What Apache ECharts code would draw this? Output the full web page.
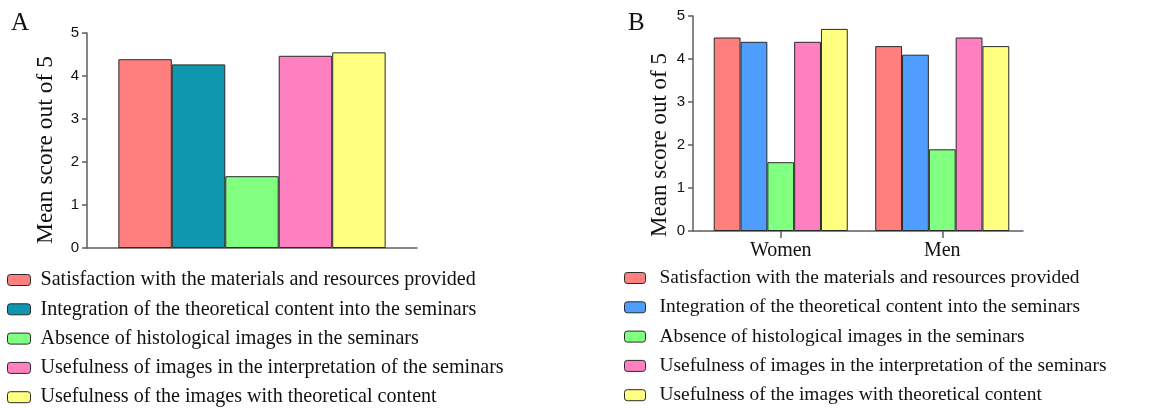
<!DOCTYPE html>
<html>
<head>
<meta charset="utf-8">
<script src="https://cdn.jsdelivr.net/npm/echarts@6/dist/echarts.min.js"></script>
<style>
  html, body { margin: 0; padding: 0; background: #fff; }
  #chart { width: 1167px; height: 408px; }
</style>
</head>
<body>
<div id="chart"></div>
<script>
// Survey items (legend entries)
const items = [
  'Satisfaction with the materials and resources provided',
  'Integration of the theoretical content into the seminars',
  'Absence of histological images in the seminars',
  'Usefulness of images in the interpretation of the seminars',
  'Usefulness of the images with theoretical content'
];

// Panel A: overall mean score per item
const overallScores = [4.39, 4.27, 1.67, 4.47, 4.55];

// Panel B: mean score per item, by gender
const genderGroups = ['Women', 'Men'];
const womenScores = [4.5, 4.4, 1.6, 4.4, 4.7];
const menScores   = [4.3, 4.1, 1.9, 4.5, 4.3];

const yTicks = [0, 1, 2, 3, 4, 5];

const coloursA = ['#FF7F7F', '#1097B0', '#80FF80', '#FF80C0', '#FFFF80'];
const coloursB = ['#FF7F7F', '#4F9DFF', '#80FF80', '#FF80C0', '#FFFF80'];

const serif = '"Liberation Serif", "Times New Roman", serif';
const sans = '"Liberation Sans", Arial, sans-serif';
const axisGrey = '#5e5e5e';
const edge = '#2a2a2a';

const gridA = { left: 87, top: 33, width: 330, height: 215 };
const gridB = { left: 700, top: 16, width: 323, height: 215 };
const bOffset = 7;

// titleShift pushes the rotated axis name down from the axis midpoint
function yAxisFor(gridIndex, gap, nameSize, titleShift, offset) {
  return {
    type: 'value', gridIndex, min: yTicks[0], max: yTicks[yTicks.length - 1], interval: 1,
    offset: offset || 0,
    name: 'Mean score out of 5', nameLocation: 'middle', nameGap: gap,
    nameTextStyle: { fontFamily: serif, fontSize: nameSize, color: '#111', padding: [0, titleShift * 2, 0, 0] },
    axisLine: { show: true, lineStyle: { color: axisGrey, width: 1.5 } },
    axisTick: { show: true, length: 5, lineStyle: { color: axisGrey, width: 1.5 } },
    axisLabel: { fontFamily: sans, fontSize: 15, color: '#111', margin: 8 },
    splitLine: { show: false }
  };
}

const series = [];
items.forEach((name, i) => {
  series.push({
    name, type: 'bar', xAxisIndex: 0, yAxisIndex: 0,
    data: [overallScores[i]],
    barGap: 0, barCategoryGap: '19%',
    itemStyle: { color: coloursA[i], borderColor: edge, borderWidth: 1 }
  });
});
items.forEach((name, i) => {
  series.push({
    name, type: 'bar', xAxisIndex: 1, yAxisIndex: 1,
    data: [womenScores[i], menScores[i]],
    barGap: 0, barCategoryGap: '17%',
    itemStyle: { color: coloursB[i], borderColor: edge, borderWidth: 1 }
  });
});

function legendFor(left, top, colours, size, iconW, textPad) {
  return {
    orient: 'vertical', left, top, padding: 0, height: 150,
    itemWidth: iconW, itemHeight: 11, itemGap: 9.3, icon: 'roundRect',
    selectedMode: false,
    textStyle: { fontFamily: serif, fontSize: size, color: '#111', lineHeight: 20, padding: [0, 0, 0, textPad] },
    data: items.map((name, i) => ({
      name, itemStyle: { color: colours[i], borderColor: edge, borderWidth: 1 }
    }))
  };
}

const option = {
  animation: false,
  backgroundColor: '#fff',
  title: [
    { text: 'A', left: 6, top: 6, textStyle: { fontFamily: serif, fontSize: 25, fontWeight: 'normal', color: '#111' } },
    { text: 'B', left: 623, top: 6, textStyle: { fontFamily: serif, fontSize: 25, fontWeight: 'normal', color: '#111' } }
  ],
  grid: [gridA, gridB],
  xAxis: [
    {
      type: 'category', gridIndex: 0, data: [''],
      axisLine: { lineStyle: { color: axisGrey, width: 1.5 } },
      axisTick: { show: false }, axisLabel: { show: false }
    },
    {
      type: 'category', gridIndex: 1, data: genderGroups,
      axisLine: { lineStyle: { color: axisGrey, width: 1.5 } },
      axisTick: { show: true, alignWithLabel: true, length: 7, lineStyle: { color: axisGrey, width: 1.5 } },
      axisLabel: { fontFamily: serif, fontSize: 20, color: '#111', margin: 10 }
    }
  ],
  yAxis: [yAxisFor(0, 29, 23.5, 9.5), yAxisFor(1, 22, 23, 21.5, bOffset)],
  legend: [legendFor(7, 270, coloursA, 20.1, 23, 5), legendFor(624, 268, coloursB, 19.4, 21, 9)],
  graphic: [{
    // joins the offset value axis to the category baseline in panel B
    type: 'line',
    shape: {
      x1: gridB.left - bOffset, y1: gridB.top + gridB.height,
      x2: gridB.left, y2: gridB.top + gridB.height
    },
    style: { stroke: axisGrey, lineWidth: 1.5 }
  }],
  series
};

echarts.init(document.getElementById('chart'), null, { renderer: 'canvas' }).setOption(option);
</script>
</body>
</html>
